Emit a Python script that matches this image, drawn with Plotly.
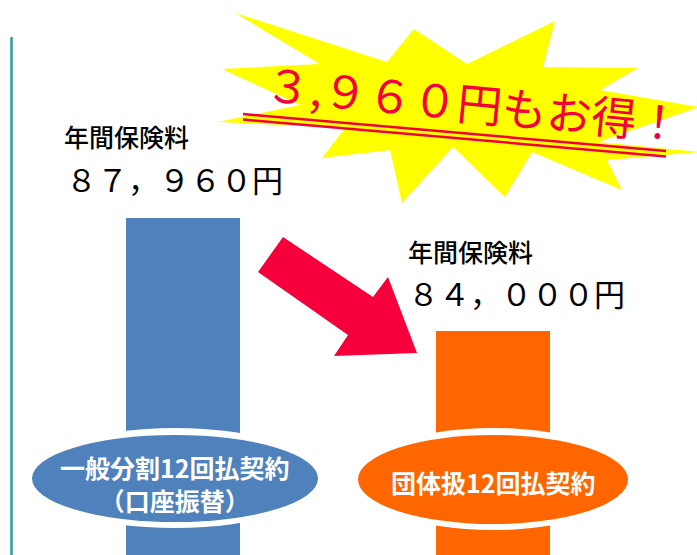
import plotly.graph_objects as go

# ---- data ----
categories = ["一般分割12回払契約<br>（口座振替）", "団体扱12回払契約"]
premiums = [87960, 84000]
value_labels = ["８７，９６０円", "８４，０００円"]
label_title = "年間保険料"
savings_text = "３,９６０円もお得！"
bar_colors = ["#4F81BD", "#FF6600"]

W, H = 697, 555
FONT = "Noto Sans CJK JP"


def px(x):
    return x / W


def py(y):
    return 1 - y / H


def path(points):
    s = "M " + " L ".join(f"{px(x):.5f},{py(y):.5f}" for x, y in points) + " Z"
    return s


x_pos = list(range(len(categories)))

fig = go.Figure()
fig.add_trace(go.Bar(
    x=x_pos, y=premiums, marker=dict(color=bar_colors, line=dict(width=0)),
    width=0.368, hoverinfo="skip", showlegend=False,
))

shapes = []
annotations = []

# axis line (green)
shapes.append(dict(type="line", xref="paper", yref="paper",
                   x0=px(11.5), x1=px(11.5), y0=py(37), y1=py(560),
                   line=dict(color="#28A096", width=2.5), layer="above"))

# starburst
star = [(235, 13), (387, 62), (414, 29), (467, 64), (555, 21), (543, 67),
        (638, 68), (600, 90), (699, 107), (598, 142), (699, 152), (607, 160),
        (622, 190), (532, 152), (505, 197), (453, 147), (402, 203), (390, 150),
        (322, 158), (345, 128), (218, 122), (300, 105), (222, 69), (320, 64)]
shapes.append(dict(type="path", xref="paper", yref="paper", path=path(star),
                   fillcolor="#FFFF00", line=dict(width=0), layer="above"))

# double underline
for dy in (0, 5.5):
    shapes.append(dict(type="line", xref="paper", yref="paper",
                       x0=px(243), y0=py(114 + dy), x1=px(666), y1=py(151 + dy),
                       line=dict(color="#F0003C", width=2.5), layer="above"))

# arrow
arrow = [(283, 237), (373, 297), (388, 277), (417, 353), (334, 356),
         (348, 335), (258, 272)]
shapes.append(dict(type="path", xref="paper", yref="paper", path=path(arrow),
                   fillcolor="#F5003A", line=dict(width=0), layer="above"))

# ellipses on bars
ell = [((32, 435, 318, 522), bar_colors[0]), ((358, 435, 628, 524), bar_colors[1])]
for (x0, y0, x1, y1), c in ell:
    shapes.append(dict(type="circle", xref="paper", yref="paper",
                       x0=px(x0 - 6), y0=py(y1 + 6), x1=px(x1 + 6), y1=py(y0 - 7),
                       fillcolor="white", line=dict(width=0), layer="above"))
    shapes.append(dict(type="circle", xref="paper", yref="paper",
                       x0=px(x0), y0=py(y1), x1=px(x1), y1=py(y0),
                       fillcolor=c, line=dict(width=0), layer="above"))

# category labels in ellipses
cat_pos = [(175, 483), (493, 482)]
for cat, (cx, cy) in zip(categories, cat_pos):
    annotations.append(dict(xref="paper", yref="paper", x=px(cx), y=py(cy),
                            text=f"<b>{cat}</b>", showarrow=False,
                            xanchor="center", yanchor="middle",
                            font=dict(family=FONT, size=25, color="white")))

# value labels
lab_pos = [(62, 136, 64, 178), (406, 251, 406, 292)]
for v, (tx, ty, vx, vy) in zip(value_labels, lab_pos):
    annotations.append(dict(xref="paper", yref="paper", x=px(tx), y=py(ty),
                            text=label_title, showarrow=False,
                            xanchor="left", yanchor="middle",
                            font=dict(family=FONT, size=25, color="black",
                                      weight=500)))
    annotations.append(dict(xref="paper", yref="paper", x=px(vx), y=py(vy),
                            text=v, showarrow=False,
                            xanchor="left", yanchor="middle",
                            font=dict(family=FONT, size=31, color="black")))

# savings text
annotations.append(dict(xref="paper", yref="paper", x=px(474), y=py(101),
                        text=savings_text, showarrow=False, textangle=5.5,
                        xanchor="center", yanchor="middle",
                        font=dict(family=FONT, size=45, color="#F5003A")))

bar_px_center = 183
unit_px = 310
fig.update_layout(
    width=W, height=H,
    margin=dict(l=0, r=0, t=0, b=0),
    paper_bgcolor="white", plot_bgcolor="white",
    xaxis=dict(range=[-bar_px_center / unit_px, (W - bar_px_center) / unit_px],
               visible=False, fixedrange=True),
    yaxis=dict(range=[76150, 95600], visible=False, fixedrange=True),
    shapes=shapes, annotations=annotations,
    bargap=0,
)

fig.write_html("out.html")
